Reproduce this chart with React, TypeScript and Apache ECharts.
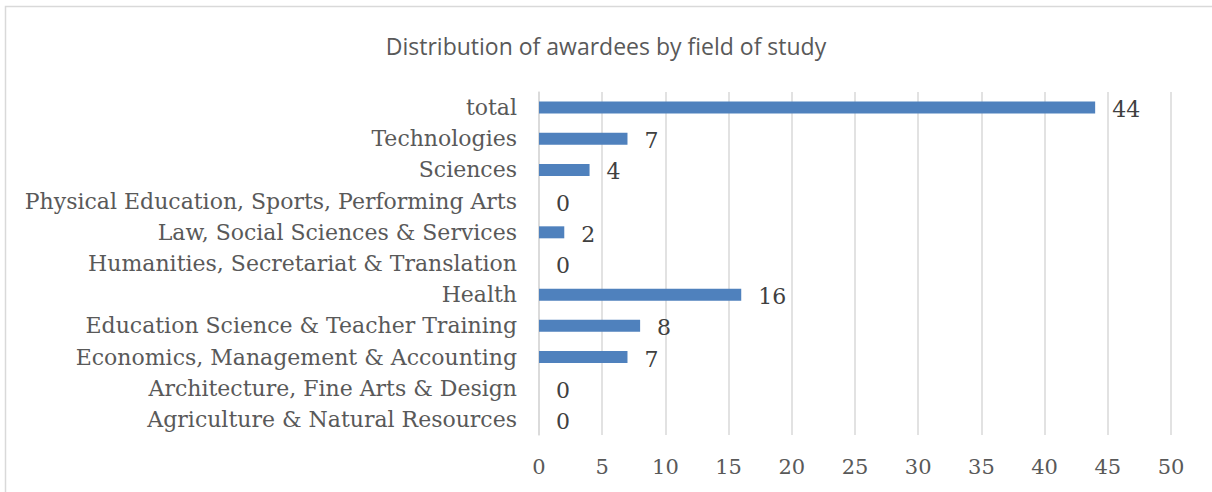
import React, { useEffect, useRef } from "react";
import * as echarts from "echarts";

const categories = [
  "Agriculture & Natural Resources",
  "Architecture, Fine Arts & Design",
  "Economics, Management & Accounting",
  "Education Science & Teacher Training",
  "Health",
  "Humanities, Secretariat & Translation",
  "Law, Social Sciences & Services",
  "Physical Education, Sports, Performing Arts",
  "Sciences",
  "Technologies",
  "total",
];
const values = [0, 0, 7, 8, 16, 0, 2, 0, 4, 7, 44];
const title = "Distribution of awardees by field of study";

const serif = "'DejaVu Serif', serif";

export default function App() {
  const ref = useRef<HTMLDivElement>(null);
  useEffect(() => {
    if (!ref.current) return;
    const chart = echarts.init(ref.current, null, { renderer: "svg" });
    chart.setOption({
      animation: false,
      backgroundColor: "#ffffff",
      title: {
        text: title,
        left: "center",
        top: 29,
        textStyle: { fontFamily: "'Open Sans', sans-serif", fontSize: 23, fontWeight: "normal", color: "#595959" },
      },
      graphic: [
        {
          type: "rect",
          shape: { x: 5.5, y: 6.5, width: 1400, height: 700 },
          style: { fill: "none", stroke: "#d9d9d9", lineWidth: 1.5 },
          silent: true,
        },
      ],
      grid: { left: 539, right: 41, top: 92, bottom: 57, containLabel: false },
      xAxis: {
        type: "value",
        min: 0,
        max: 50,
        interval: 5,
        axisLine: { show: false },
        axisTick: { show: false },
        splitLine: { lineStyle: { color: "#d9d9d9", width: 1.5 } },
        axisLabel: { fontFamily: serif, fontSize: 21, color: "#595959", margin: 21 },
      },
      yAxis: {
        type: "category",
        data: categories,
        axisLine: { lineStyle: { color: "#d9d9d9", width: 1.5 } },
        axisTick: { show: false },
        axisLabel: { fontFamily: serif, fontSize: 22, color: "#595959", margin: 22 },
      },
      series: [
        {
          type: "bar",
          data: values,
          barWidth: 12,
          itemStyle: { color: "#4f81bd" },
          label: {
            show: true,
            position: "right",
            distance: 17,
            offset: [0, 2],
            fontFamily: serif,
            fontSize: 22,
            color: "#404040",
          },
        },
      ],
    });
    return () => chart.dispose();
  }, []);
  return (
    <div
      ref={ref}
      style={{ position: "fixed", left: 0, top: 0, width: 1212, height: 492, background: "#fff" }}
    />
  );
}
